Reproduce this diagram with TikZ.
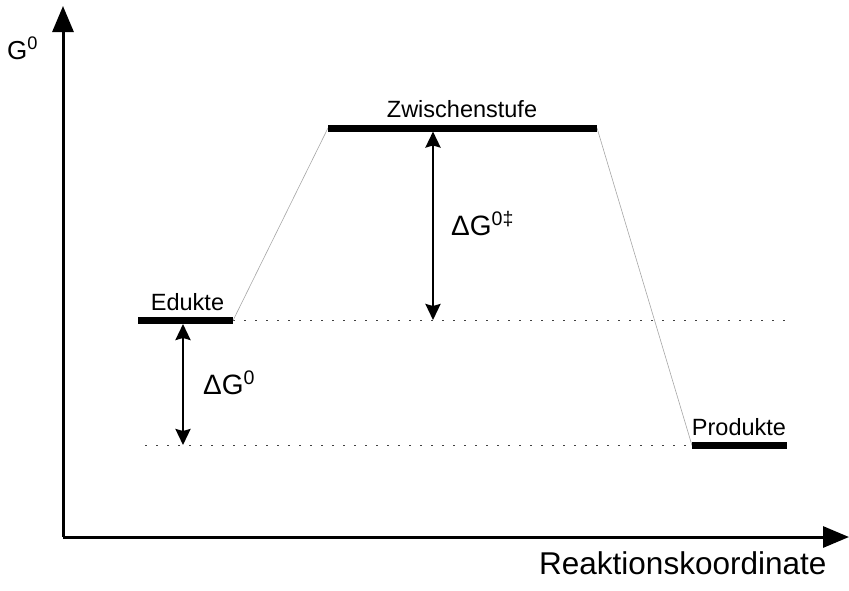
\documentclass[tikz,border=0pt]{standalone}
\usepackage{fontspec}
\setmainfont{Liberation Sans}
\usetikzlibrary{arrows.meta}
\begin{document}
\begin{tikzpicture}[x=1pt,y=-1pt,
  axis/.style={line width=3pt,-{Triangle[length=26pt,width=21pt]}},
  level/.style={line width=7pt},
  path/.style={line width=0.6pt,gray!70},
  guide/.style={line width=1.8pt,dash pattern=on 1.8pt off 9.2pt,black!75},
  gap/.style={line width=2.6pt,{Stealth[length=16pt,width=15pt,inset=2pt]}-{Stealth[length=16pt,width=15pt,inset=2pt]}},
  lbl/.style={font=\fontsize{23.5}{26}\selectfont,anchor=base,inner sep=0pt},
  big/.style={font=\fontsize{28}{32}\selectfont,anchor=base west,inner sep=0pt}]
  \useasboundingbox (0,0) rectangle (849,590);
  % axes
  \coordinate (O) at (63,537);
  \coordinate (ytop) at (63,6);
  \coordinate (xend) at (849,537);
  \draw[axis] (O) -- (ytop);
  \draw[axis] (O) -- (xend);
  \node[big,font=\fontsize{26}{30}\selectfont] (gl) at (7,59) {G\textsuperscript{0}};
  \node[big,font=\fontsize{31.5}{34}\selectfont] (xl) at (539,574) {Reaktionskoordinate};
  % energy levels
  \coordinate (e1) at (138,320.5); \coordinate (e2) at (233,320.5);
  \coordinate (z1) at (328,128);   \coordinate (z2) at (597,128);
  \coordinate (p1) at (692,445.5); \coordinate (p2) at (787,445.5);
  \coordinate (eg) at (787,320.5); \coordinate (pg) at (145,445.5);
  \draw[guide] (e2) -- (eg);
  \draw[guide] (pg) -- (p1);
  \draw[path] (e2) -- (z1);
  \draw[path] (z2) -- (p1);
  \draw[level] (e1) -- (e2);
  \draw[level] (z1) -- (z2);
  \draw[level] (p1) -- (p2);
  \node[lbl] (ed) at (187.5,310) {Edukte};
  \node[lbl] (zw) at (462,117) {Zwischenstufe};
  \node[lbl] (pr) at (739,435) {Produkte};
  % free energy differences
  \coordinate (a1) at (433,131.5); \coordinate (a2) at (433,320);
  \coordinate (b1) at (183,324); \coordinate (b2) at (183,445);
  \draw[gap] (a1) -- (a2);
  \draw[gap] (b1) -- (b2);
  \node[big] (dga) at (451,235) {ΔG\textsuperscript{0‡}};
  \node[big] (dgb) at (203,394) {ΔG\textsuperscript{0}};
\end{tikzpicture}
\end{document}
